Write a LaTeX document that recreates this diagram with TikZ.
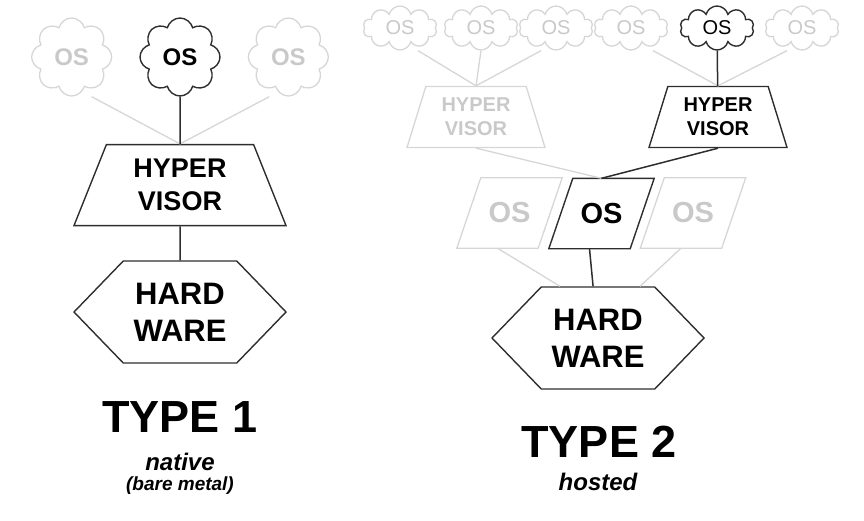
\documentclass[tikz,border=0pt]{standalone}
\usepackage{fontspec}
\setmainfont{Liberation Sans}
\usetikzlibrary{calc}
\usetikzlibrary{positioning}
\usetikzlibrary{shapes.geometric,shapes.symbols}

\definecolor{ink}{HTML}{2E2E2E}
\definecolor{faded}{HTML}{D6D6D6}
\definecolor{fadedtext}{HTML}{C9C9C9}

\begin{document}
\begin{tikzpicture}[x=1pt, y=-1pt,
    live/.style={draw=ink, text=black, line width=1.4pt},
    ghost/.style={draw=faded, text=fadedtext, line width=1.3pt},
    link/.style={draw=ink, line width=1.5pt},
    fadelink/.style={draw=faded, line width=1.3pt},
    bigcloud/.style={cloud, cloud puffs=8, cloud ignores aspect, minimum width=80pt, minimum height=78pt, inner sep=0pt, font=\fontsize{24}{24}\selectfont\bfseries},
    smallcloud/.style={cloud, cloud puffs=10, cloud ignores aspect, minimum width=74pt, minimum height=44pt, inner sep=0pt, font=\fontsize{20}{20}\selectfont},
    hyperbig/.style={trapezium, trapezium stretches body, trapezium left angle=58, trapezium right angle=58, minimum width=212pt, minimum height=81pt, inner sep=0pt, align=center, font=\fontsize{27}{33}\selectfont\bfseries},
    hypersmall/.style={trapezium, trapezium stretches body, trapezium left angle=61, trapezium right angle=61, minimum width=138pt, minimum height=61pt, inner ysep=-2pt, inner xsep=-16pt, align=center, font=\fontsize{20}{24}\selectfont\bfseries},
    osbox/.style={rectangle, minimum width=105pt, minimum height=70pt, inner sep=0pt, font=\fontsize{29}{29}\selectfont\bfseries},
    hardware/.style={signal, signal to=west and east, signal pointer angle=92, minimum width=212pt, minimum height=102pt, inner sep=0pt, align=center, font=\fontsize{31}{37}\selectfont\bfseries}]

    \useasboundingbox (0,0) rectangle (864,520);

    % type 1: native
    \node [hardware, live] (hw1) at (180,312) {HARD\\WARE};
    \node [hyperbig, live, above=34pt of hw1] (hv1) {HYPER\\VISOR};
    \node [bigcloud, live] (os1b) at (180,57) {OS};
    \node [bigcloud, ghost, left=27pt of os1b] (os1a) {OS};
    \node [bigcloud, ghost, right=27pt of os1b] (os1c) {OS};
    \node [anchor=base, font=\fontsize{45}{45}\selectfont\bfseries] (title1) at (180,432) {TYPE 1};
    \node [anchor=base, font=\fontsize{24}{24}\selectfont\bfseries\itshape] (kind1) at (180,470) {native};
    \node [anchor=base, font=\fontsize{19}{19}\selectfont\bfseries\itshape] (note1) at (180,490) {(bare metal)};

    \draw [fadelink] ($(os1a.south)+(20,0)$) -- (hv1.north);
    \draw [fadelink] ($(os1c.south)+(-19,0)$) -- (hv1.north);
    \draw [link] (os1b) -- (hv1);
    \draw [link] (hv1) -- (hw1);

    % type 2: hosted
    \node [hardware, live] (hw2) at (598,338) {HARD\\WARE};
    \node [osbox, text=fadedtext] (os2a) at (509.5,213) {OS};
    \node [osbox] (os2b) at (601.5,213.5) {OS};
    \node [osbox, text=fadedtext] (os2c) at (693,213) {OS};
    \foreach \guest/\look in {os2a/ghost, os2c/ghost, os2b/live}
        \draw [\look] (\guest.south west) -- ($(\guest.north west)+(24,0)$) -- (\guest.north east) -- ($(\guest.south east)+(-24,0)$) -- cycle;
    \node [hypersmall, ghost] (hv2a) at (476,117) {HYPER\\VISOR};
    \node [hypersmall, live] (hv2b) at (718,117) {HYPER\\VISOR};
    \node [smallcloud, ghost] (vm1) at (400,28) {OS};
    \node [smallcloud, ghost] (vm2) at (481,28) {OS};
    \node [smallcloud, ghost] (vm3) at (556,28) {OS};
    \node [smallcloud, ghost] (vm4) at (631,28) {OS};
    \node [smallcloud, live] (vm5) at (717,28) {OS};
    \node [smallcloud, ghost] (vm6) at (802,28) {OS};
    \node [anchor=base, font=\fontsize{45}{45}\selectfont\bfseries] (title2) at (599,457) {TYPE 2};
    \node [anchor=base, font=\fontsize{24}{24}\selectfont\bfseries\itshape] (kind2) at (598,490) {hosted};

    \draw [fadelink] ($(vm1.south)+(18,0)$) -- (hv2a.north);
    \draw [fadelink] (vm2.south) -- (hv2a.north);
    \draw [fadelink] ($(vm3.south)+(-15,0)$) -- (hv2a.north);
    \draw [fadelink] ($(vm4.south)+(22,0)$) -- (hv2b.north);
    \draw [fadelink] ($(vm6.south)+(-15,0)$) -- (hv2b.north);
    \draw [link] (vm5) -- (hv2b);
    \draw [fadelink] (hv2a.south) -- (os2b.north);
    \draw [link] (hv2b.south) -- (os2b.north);
    \draw [fadelink] ($(os2a.south)+(-12,0)$) -- ($(hw2.north)+(-38,0)$);
    \draw [fadelink] ($(os2c.south)+(-12,0)$) -- ($(hw2.north)+(42,0)$);
    \draw [link] ($(os2b.south)+(-12,0)$) -- (hw2);
\end{tikzpicture}
\end{document}
